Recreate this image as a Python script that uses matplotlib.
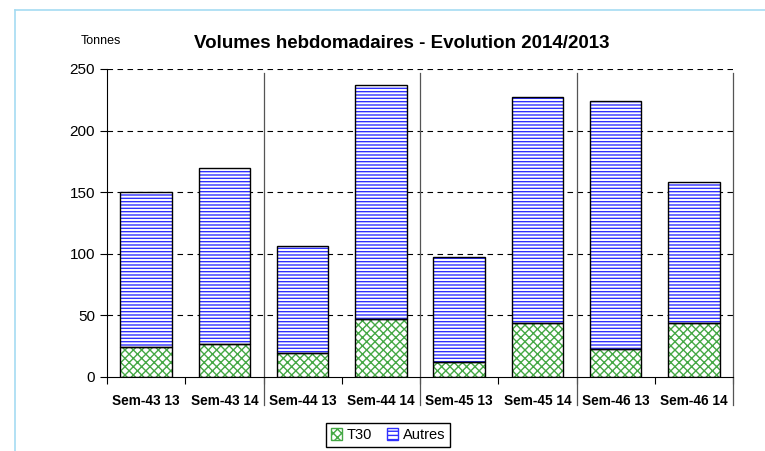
import matplotlib.pyplot as plt
import matplotlib.transforms as mtransforms
from matplotlib.patches import Patch
from matplotlib.lines import Line2D
import numpy as np

plt.rcParams['font.family'] = ['Liberation Sans', 'DejaVu Sans']
plt.rcParams['hatch.linewidth'] = 1.0

semaines = ['Sem-43 13', 'Sem-43 14', 'Sem-44 13', 'Sem-44 14',
            'Sem-45 13', 'Sem-45 14', 'Sem-46 13', 'Sem-46 14']
t30 = [24, 27, 19.5, 47, 12, 44, 23, 43.5]
total = [150, 170, 106, 237, 97, 227, 224, 158]
autres = [t - a for t, a in zip(total, t30)]

fig = plt.figure(figsize=(7.65, 4.51), dpi=100)
ax = fig.add_axes([107/765, 1-377/451, 626/765, 308/451])

x = np.arange(len(semaines))
w = 0.66

# grille pointillee derriere les barres
for v in [50, 100, 150, 200, 250]:
    ax.axhline(v, color='black', lw=0.8, ls=(0, (5, 4)), zorder=0)

ax.bar(x, t30, w, color='white', edgecolor='#45a845', hatch='xxxx', lw=0, zorder=2)
ax.bar(x, t30, w, fill=False, edgecolor='black', lw=1.0, zorder=3)
ax.bar(x, autres, w, bottom=t30, color='white', edgecolor='#3030ff', hatch='-----', lw=0, zorder=2)
ax.bar(x, autres, w, bottom=t30, fill=False, edgecolor='black', lw=1.0, zorder=3)

ax.set_xlim(-0.5, len(semaines) - 0.5)
ax.set_ylim(0, 250)
ax.set_yticks([0, 50, 100, 150, 200, 250])
ax.tick_params(axis='y', labelsize=11, length=5, direction='out', width=0.8)
ax.set_xticks(x)
ax.set_xticklabels(semaines, fontsize=9.8, fontweight='bold')
ax.tick_params(axis='x', length=0, pad=12)
ax.set_xticks(np.arange(len(semaines) + 1) - 0.5, minor=True)
ax.tick_params(axis='x', which='minor', length=5, width=0.8)

for s in ['top', 'right']:
    ax.spines[s].set_visible(False)
ax.spines['left'].set_linewidth(0.8)
ax.spines['bottom'].set_linewidth(0.8)

# separateurs entre les semaines
trans = mtransforms.blended_transform_factory(ax.transData, ax.transAxes)
for sep in [1.5, 3.5, 5.5, 7.5]:
    ax.add_line(Line2D([sep, sep], [-0.09, 0.987], transform=trans,
                       color='#555555', lw=0.9, clip_on=False))

fig.text(402/765, 1-43/451, 'Volumes hebdomadaires - Evolution 2014/2013',
         ha='center', va='center', fontsize=13.5, fontweight='bold')
fig.text(101/765, 1-41/451, 'Tonnes', ha='center', va='center', fontsize=9)

handles = [Patch(facecolor='white', edgecolor='#45a845', hatch='xxxx', label='T30'),
           Patch(facecolor='white', edgecolor='#3030ff', hatch='----', label='Autres')]
fig.legend(handles=handles, loc='center', bbox_to_anchor=(388/765, 1-435/451),
           ncol=2, fontsize=10.5, frameon=True, fancybox=False, edgecolor='black',
           handlelength=0.8, handleheight=0.8, handletextpad=0.3, columnspacing=1.0,
           borderpad=0.35, framealpha=1)

# cadre bleu clair
fig.add_artist(Line2D([15/765, 1], [1-10/451, 1-10/451], color='#a6dcf2', lw=1.2))
fig.add_artist(Line2D([15/765, 15/765], [0, 1-10/451], color='#a6dcf2', lw=1.2))

fig.savefig('out.png', dpi=100)
